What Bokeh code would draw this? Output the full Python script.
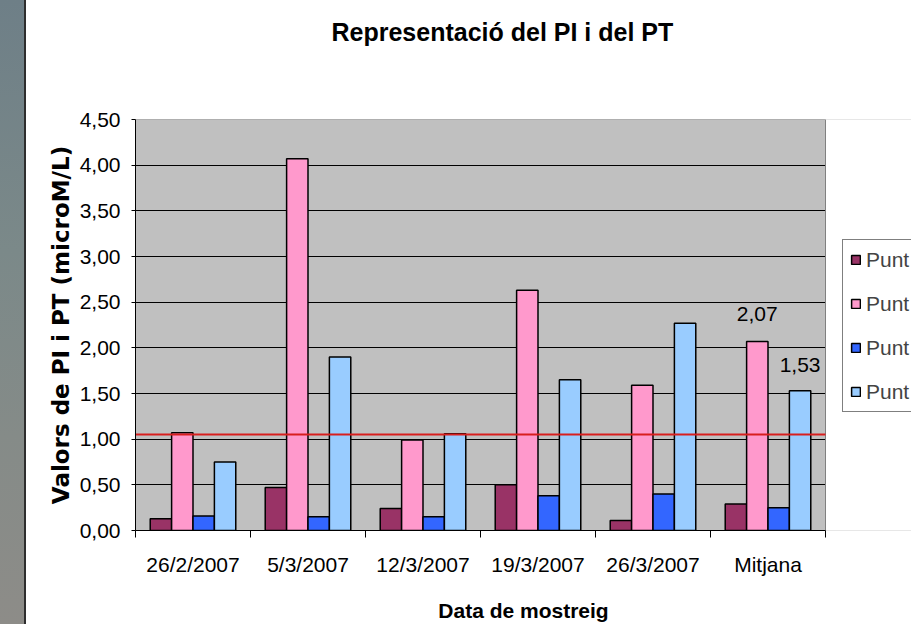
from bokeh.plotting import figure
from bokeh.models import (Range1d, FixedTicker, LabelSet, Legend, LegendItem, ColumnDataSource)
from bokeh.core.properties import value
from bokeh.transform import dodge
from bokeh.embed import file_html
from bokeh.resources import INLINE

# ---- data ----
categories = ["26/2/2007", "5/3/2007", "12/3/2007", "19/3/2007", "26/3/2007", "Mitjana"]
series_names = ["Punt", "Punt", "Punt", "Punt"]
punt1 = [0.13, 0.47, 0.24, 0.50, 0.11, 0.29]
punt2 = [1.07, 4.07, 0.99, 2.63, 1.59, 2.07]
punt3 = [0.16, 0.15, 0.15, 0.38, 0.40, 0.25]
punt4 = [0.75, 1.90, 1.06, 1.65, 2.27, 1.53]
y_ticks = [0.0, 0.5, 1.0, 1.5, 2.0, 2.5, 3.0, 3.5, 4.0, 4.5]
limit_value = 1.05

colors = ["#993366", "#FF99CC", "#3366FF", "#99CCFF"]
SANS = "Liberation Sans"

W, H = 911, 624
LEFT, TOP, BOTTOM = 135, 118, 93
PLOT_W = 690                      # width of the grey plot area in pixels
FRAME_W = W - LEFT                # frame runs to the right edge (legend lives inside it)
n = len(categories)
y_max = y_ticks[-1]
x_end = n * FRAME_W / PLOT_W

centers = [i + 0.5 for i in range(n)]
src = ColumnDataSource(dict(x=centers, p1=punt1, p2=punt2, p3=punt3, p4=punt4))

p = figure(width=W, height=H, x_range=Range1d(0, x_end), y_range=Range1d(0, y_max),
           output_backend="svg", toolbar_location=None,
           min_border_left=LEFT, min_border_right=0, min_border_top=TOP, min_border_bottom=BOTTOM)
p.background_fill_color = "#C0C0C0"
p.border_fill_alpha = 0.0
p.outline_line_color = None
# slide background: white page with a grey textured strip at the left edge
p.styles = {
    "background-color": "white",
    "background-image": ("linear-gradient(to bottom, #6E7F87 0%, #7B8989 40%, #858B88 70%, #8D8C88 100%),"
                         " linear-gradient(#2E2E2E, #2E2E2E)"),
    "background-size": "24px 100%, 2px 100%",
    "background-position": "0px 0px, 24px 0px",
    "background-repeat": "no-repeat",
}

# title (extra blank lines keep it high above the frame)
p.title.text = "Representació del PI i del PT\n\n"
p.title.text_font = SANS
p.title.text_font_style = "bold"
p.title.text_font_size = "25px"
p.title.text_color = "black"
p.title.text_line_height = 0.98
p.title.align = "left"
p.title.offset = 196
p.title.vertical_align = "top"
p.title.standoff = 34

# grid
p.xgrid.visible = False
p.ygrid.grid_line_color = "black"
p.ygrid.grid_line_width = 1
p.ygrid.ticker = FixedTicker(ticks=y_ticks)

# white area right of the plot area (legend side), and grey plot border
p.quad(left=n, right=x_end, bottom=0, top=y_max, fill_color="white", line_color=None)
p.line(x=[0, n, n], y=[y_max, y_max, 0], line_color="#808080", line_width=1)

# y axis
p.yaxis.ticker = FixedTicker(ticks=y_ticks)
p.yaxis.major_label_overrides = {t: f"{t:.2f}".replace(".", ",") for t in y_ticks}
p.yaxis.axis_line_color = "black"
p.yaxis.major_tick_line_color = "black"
p.yaxis.major_tick_out = 4
p.yaxis.major_tick_in = 0
p.yaxis.minor_tick_line_color = None
p.yaxis.major_label_standoff = 11
p.yaxis.major_label_text_font = SANS
p.yaxis.major_label_text_font_size = "21px"
p.yaxis.major_label_text_color = "black"
p.yaxis.axis_label = "Valors de PI i PT (microM/L)"
p.yaxis.axis_label_text_font = "DejaVu Sans"
p.yaxis.axis_label_text_font_style = "bold"
p.yaxis.axis_label_text_font_size = "23px"
p.yaxis.axis_label_text_color = "black"
p.yaxis.axis_label_standoff = 3

# x axis: labels at centers, ticks at category boundaries (minor ticks)
p.xaxis.bounds = (0, n)
p.xaxis.ticker = FixedTicker(ticks=centers, minor_ticks=list(range(n + 1)))
p.xaxis.major_label_overrides = {c: lab for c, lab in zip(centers, categories)}
p.xaxis.axis_line_color = "black"
p.xaxis.major_tick_line_color = None
p.xaxis.major_tick_out = 7
p.xaxis.major_tick_in = 0
p.xaxis.minor_tick_line_color = "black"
p.xaxis.minor_tick_out = 7
p.xaxis.minor_tick_in = 0
p.xaxis.major_label_standoff = 15
p.xaxis.major_label_text_font = SANS
p.xaxis.major_label_text_font_size = "21px"
p.xaxis.major_label_text_color = "black"
p.xaxis.axis_label = "Data de mostreig"
p.xaxis.axis_label_text_font = SANS
p.xaxis.axis_label_text_font_style = "bold"
p.xaxis.axis_label_text_font_size = "21px"
p.xaxis.axis_label_text_color = "black"
p.xaxis.axis_label_standoff = 20

# bars
w = 0.186
offs = [-1.5 * w, -0.5 * w, 0.5 * w, 1.5 * w]
renderers = []
for key, col, off in zip(["p1", "p2", "p3", "p4"], colors, offs):
    r = p.vbar(x=dodge("x", off, range=p.x_range), top=key, width=w, bottom=0, source=src,
               fill_color=col, line_color="black", line_width=1.5)
    renderers.append(r)

# red reference line across the plot area
p.segment(x0=[0], x1=[n], y0=[limit_value], y1=[limit_value], line_color="#D81E1E", line_width=2)

# data labels for Mitjana
lab_src = ColumnDataSource(dict(
    x=[centers[-1] + offs[1], centers[-1] + offs[3]],
    y=[punt2[-1], punt4[-1]],
    t=[f"{punt2[-1]:.2f}".replace(".", ","), f"{punt4[-1]:.2f}".replace(".", ",")],
    yo=[20, 19],
))
p.add_layout(LabelSet(x="x", y="y", text="t", source=lab_src, y_offset="yo",
                      text_align="center", text_baseline="alphabetic",
                      text_font=value(SANS), text_font_size="21px", text_color="black",
                      background_fill_color="#C0C0C0"))

# legend, inside the (extended) frame, right of the grey plot area
items = [LegendItem(label=s, renderers=[r]) for s, r in zip(series_names, renderers)]
legend = Legend(items=items, location=(PLOT_W + 17, 118), orientation="vertical",
                glyph_width=11, glyph_height=11, label_standoff=5, padding=7, spacing=19,
                label_text_font=SANS, label_text_font_size="21px", label_height=25,
                border_line_color="black", border_line_width=1,
                background_fill_color="white", background_fill_alpha=1.0, margin=0)
p.add_layout(legend, "center")

open("out.html", "w").write(file_html(p, INLINE))
